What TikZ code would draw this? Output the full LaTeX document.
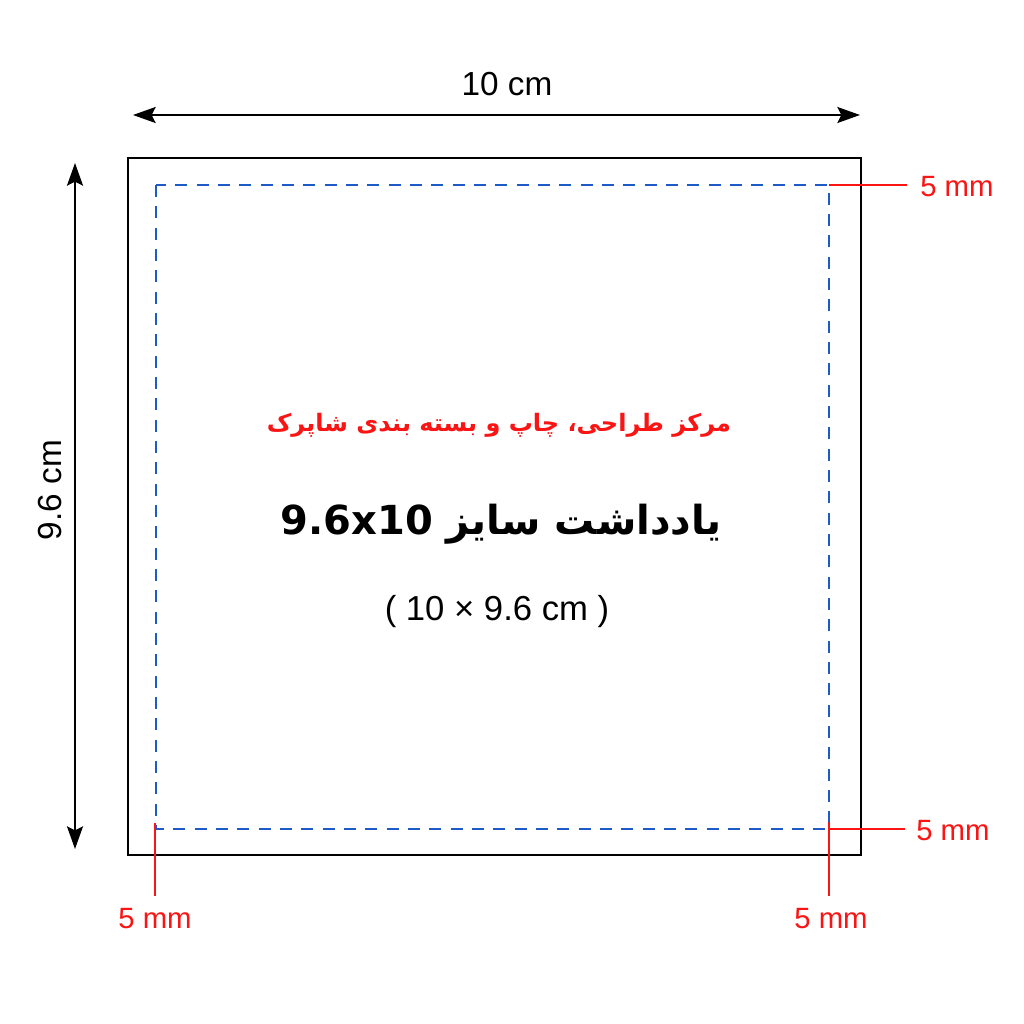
\documentclass[tikz,border=0pt]{standalone}
\usepackage{fontspec}
\setmainfont{Liberation Sans}
\newfontfamily\arabicfont[Script=Arabic]{DejaVu Sans}
\TeXXeTstate=1
\usetikzlibrary{arrows.meta}
\definecolor{markred}{RGB}{250,20,20}
\definecolor{safeblue}{RGB}{30,90,200}
\tikzset{
  dimarrow/.style={line width=1.4pt,{Stealth[length=17pt,width=12pt,inset=3pt]}-{Stealth[length=17pt,width=12pt,inset=3pt]}},
  markline/.style={draw=markred,line width=1.4pt},
  marklabel/.style={text=markred,inner sep=0.75pt,font=\fontsize{22}{26}\selectfont},
  dimlabel/.style={inner sep=0.75pt,font=\fontsize{25}{30}\selectfont}
}
\begin{document}
\begin{tikzpicture}[x=0.75pt,y=0.75pt,yscale=-1,xscale=1]
\useasboundingbox (0,0) rectangle (1024,1024);
\fill[white] (0,0) rectangle (1024,1024);

% sheet and safe area
\draw[line width=1.6pt] (128,158) rectangle (861,855);
\draw[safeblue,line width=1.5pt,dash pattern=on 9pt off 7pt] (156,185) rectangle (829,829);

% width
\coordinate (wl) at (133,115);
\coordinate (wr) at (860,115);
\draw[dimarrow] (wl) -- (wr);
\node[dimlabel] (wlabel) at (507,84) {10 cm};

% height
\coordinate (ht) at (75,163);
\coordinate (hb) at (75,849);
\draw[dimarrow] (ht) -- (hb);
\node[dimlabel,rotate=90] (hlabel) at (50,490) {9.6 cm};

% margins
\coordinate (tr) at (829,185);
\coordinate (trend) at (907,185);
\draw[markline] (tr) -- (trend);
\node[marklabel,anchor=west] (trlabel) at (919,187) {5 mm};

\coordinate (br) at (829,829);
\coordinate (brend) at (905,829);
\draw[markline] (br) -- (brend);
\node[marklabel,anchor=west] (brlabel) at (915,831) {5 mm};

\coordinate (bv) at (829,822);
\coordinate (bvend) at (829,896);
\draw[markline] (bv) -- (bvend);
\node[marklabel] (bvlabel) at (831,919) {5 mm};

\coordinate (lv) at (155,823);
\coordinate (lvend) at (155,896);
\draw[markline] (lv) -- (lvend);
\node[marklabel] (lvlabel) at (155,919) {5 mm};

% texts
\node[text=markred,inner sep=0.75pt,font=\arabicfont\bfseries\fontsize{18}{24}\selectfont] (brand) at (499,425) {\beginR مرکز طراحی، چاپ و بسته بندی شاپرک\endR};
\node[inner sep=0.75pt,font=\arabicfont\bfseries\fontsize{30}{38}\selectfont] (title) at (501,524) {\beginR یادداشت سایز \beginL9.6x10\endL\endR};
\node[inner sep=0.75pt,font=\fontsize{26}{30}\selectfont] (size) at (497,612) {( 10 × 9.6 cm )};

\end{tikzpicture}
\end{document}
